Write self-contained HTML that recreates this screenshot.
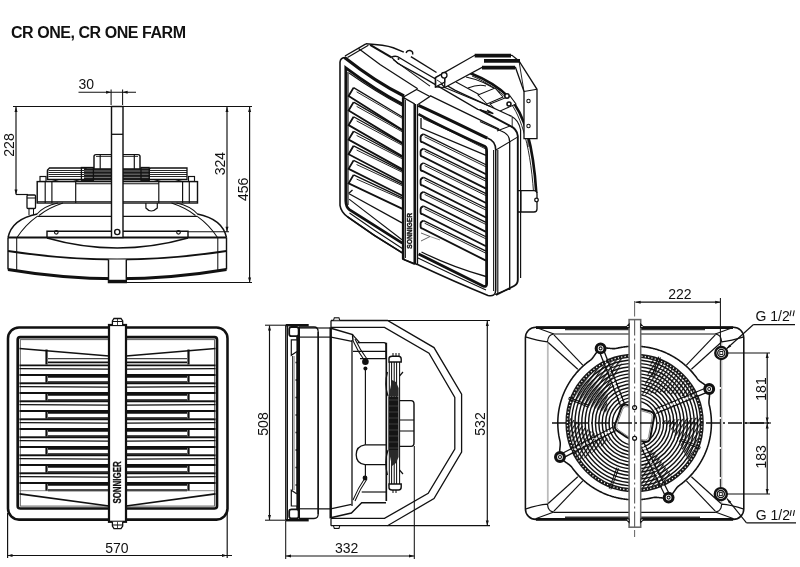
<!DOCTYPE html>
<html><head><meta charset="utf-8"><style>
html,body{margin:0;padding:0;background:#fff;}
svg{display:block;filter:grayscale(100%);}
text{font-family:"Liberation Sans",sans-serif;fill:#111;}
</style></head><body>
<svg width="800" height="567" viewBox="0 0 800 567" stroke-linecap="butt">
<text x="11" y="38" font-size="16" font-weight="bold" letter-spacing="-0.45" fill="#000">CR ONE, CR ONE FARM</text>
<text x="78.5" y="89" font-size="14" text-anchor="start" font-weight="normal" >30</text>
<line x1="78.5" y1="92.3" x2="136" y2="92.3" stroke="#111" stroke-width="1.04" />
<path d="M111.1,92.3 L106.10,93.80 L106.10,90.80 Z" fill="#111" stroke="none"/>
<path d="M122.6,92.3 L127.60,90.80 L127.60,93.80 Z" fill="#111" stroke="none"/>
<line x1="111.1" y1="89.5" x2="111.1" y2="105" stroke="#111" stroke-width="1.04" />
<line x1="122.6" y1="89.5" x2="122.6" y2="105" stroke="#111" stroke-width="1.04" />
<line x1="13" y1="106.5" x2="252" y2="106.5" stroke="#111" stroke-width="1.17" />
<line x1="16" y1="107" x2="16" y2="194.5" stroke="#111" stroke-width="1.17" />
<path d="M16,107 L17.50,112.00 L14.50,112.00 Z" fill="#111" stroke="none"/>
<path d="M16,194.5 L14.50,189.50 L17.50,189.50 Z" fill="#111" stroke="none"/>
<line x1="16" y1="194.5" x2="28" y2="194.5" stroke="#111" stroke-width="1.17" />
<text x="13.5" y="145" font-size="14" text-anchor="middle" font-weight="normal" transform="rotate(-90 13.5 145)" >228</text>
<line x1="227" y1="107" x2="227" y2="231.7" stroke="#111" stroke-width="1.17" />
<path d="M227,107 L228.50,112.00 L225.50,112.00 Z" fill="#111" stroke="none"/>
<path d="M227,231.7 L225.50,226.70 L228.50,226.70 Z" fill="#111" stroke="none"/>
<line x1="188" y1="231.7" x2="229" y2="231.7" stroke="#111" stroke-width="1.04" />
<text x="225.3" y="163.6" font-size="14" text-anchor="middle" font-weight="normal" transform="rotate(-90 225.3 163.6)" >324</text>
<line x1="249.6" y1="107" x2="249.6" y2="282.5" stroke="#111" stroke-width="1.17" />
<path d="M249.6,107 L251.10,112.00 L248.10,112.00 Z" fill="#111" stroke="none"/>
<path d="M249.6,282.5 L248.10,277.50 L251.10,277.50 Z" fill="#111" stroke="none"/>
<line x1="126" y1="282.5" x2="252" y2="282.5" stroke="#111" stroke-width="1.17" />
<text x="247.6" y="189.4" font-size="14" text-anchor="middle" font-weight="normal" transform="rotate(-90 247.6 189.4)" >456</text>
<path d="M94,170 L94,156.5 Q94,154.6 96,154.6 L138,154.6 Q140,154.6 140,156.5 L140,170" stroke="#111" stroke-width="1.43" fill="none" />
<line x1="100.2" y1="154.8" x2="100.2" y2="170" stroke="#111" stroke-width="1.17" />
<line x1="134.3" y1="154.8" x2="134.3" y2="170" stroke="#111" stroke-width="1.17" />
<line x1="96" y1="156.5" x2="138" y2="156.5" stroke="#111" stroke-width="0.78" />
<path d="M49.5,168 L86,168 L86,179.5 L47.5,179.5 L47.5,170 Z" stroke="#111" stroke-width="1.3" fill="none" />
<line x1="48.5" y1="170.5" x2="86" y2="170.5" stroke="#111" stroke-width="0.91" />
<line x1="48.5" y1="172.5" x2="86" y2="172.5" stroke="#111" stroke-width="0.91" />
<line x1="48.5" y1="174.5" x2="86" y2="174.5" stroke="#111" stroke-width="0.91" />
<line x1="48.5" y1="176.5" x2="86" y2="176.5" stroke="#111" stroke-width="0.91" />
<path d="M150.5,168 L187,168 L187,179.5 L148.5,179.5 L148.5,170 Z" stroke="#111" stroke-width="1.3" fill="none" />
<line x1="149.5" y1="170.5" x2="187" y2="170.5" stroke="#111" stroke-width="0.91" />
<line x1="149.5" y1="172.5" x2="187" y2="172.5" stroke="#111" stroke-width="0.91" />
<line x1="149.5" y1="174.5" x2="187" y2="174.5" stroke="#111" stroke-width="0.91" />
<line x1="149.5" y1="176.5" x2="187" y2="176.5" stroke="#111" stroke-width="0.91" />
<line x1="47.5" y1="170.5" x2="47.5" y2="180" stroke="#111" stroke-width="1.3" />
<path d="M52,179.5 Q66,185 80,179.5" stroke="#111" stroke-width="1.04" fill="none" />
<path d="M154,179.5 Q168,185 182,179.5" stroke="#111" stroke-width="1.04" fill="none" />
<rect x="84" y="168.2" width="66" height="12.3" rx="0" stroke="#111" stroke-width="0.0" fill="#1a1a1a" />
<line x1="84" y1="171.0" x2="150" y2="171.0" stroke="#bbb" stroke-width="0.59" />
<line x1="84" y1="174.2" x2="150" y2="174.2" stroke="#bbb" stroke-width="0.59" />
<line x1="84" y1="177.4" x2="150" y2="177.4" stroke="#bbb" stroke-width="0.59" />
<rect x="81.4" y="167.5" width="12" height="12.8" rx="0" stroke="#111" stroke-width="1.3" fill="none" />
<rect x="141" y="167.5" width="8.2" height="12.8" rx="0" stroke="#111" stroke-width="1.3" fill="none" />
<rect x="40" y="176.5" width="6" height="5" rx="0" stroke="#111" stroke-width="1.17" fill="none" />
<rect x="188.5" y="176.5" width="6" height="5" rx="0" stroke="#111" stroke-width="1.17" fill="none" />
<rect x="37.2" y="181.6" width="160.3" height="21.4" rx="0" stroke="#111" stroke-width="1.43" fill="#fff" />
<line x1="45.2" y1="181.6" x2="45.2" y2="203" stroke="#111" stroke-width="1.17" />
<line x1="189.3" y1="181.6" x2="189.3" y2="203" stroke="#111" stroke-width="1.17" />
<line x1="51.9" y1="181.6" x2="51.9" y2="203" stroke="#111" stroke-width="1.17" />
<line x1="182.6" y1="181.6" x2="182.6" y2="203" stroke="#111" stroke-width="1.17" />
<line x1="75.7" y1="181.6" x2="75.7" y2="203" stroke="#111" stroke-width="1.17" />
<line x1="158.8" y1="181.6" x2="158.8" y2="203" stroke="#111" stroke-width="1.17" />
<line x1="75.7" y1="183.7" x2="158.8" y2="183.7" stroke="#111" stroke-width="1.04" />
<line x1="37.2" y1="201.5" x2="197.5" y2="201.5" stroke="#111" stroke-width="0.78" />
<path d="M145.9,203 L145.9,208 Q151,214 157.3,208 L157.3,203" stroke="#111" stroke-width="1.17" fill="none" />
<line x1="37.2" y1="216.3" x2="197.5" y2="216.3" stroke="#111" stroke-width="1.17" />
<path d="M37,214 Q44,206 58,203" stroke="#111" stroke-width="1.04" fill="none" />
<path d="M39,215.5 Q48,208 63,203" stroke="#111" stroke-width="1.04" fill="none" />
<path d="M197.5,214 Q190.5,206 176.5,203" stroke="#111" stroke-width="1.04" fill="none" />
<path d="M195.5,215.5 Q186.5,208 171.5,203" stroke="#111" stroke-width="1.04" fill="none" />
<path d="M8,237.5 Q12,219 37.2,214" stroke="#111" stroke-width="1.43" fill="none" />
<path d="M226.5,237.5 Q222.5,219 197.3,214" stroke="#111" stroke-width="1.43" fill="none" />
<path d="M17,237.5 Q25,225 37.2,216.3" stroke="#111" stroke-width="1.04" fill="none" />
<path d="M217.5,237.5 Q209.5,225 197.3,216.3" stroke="#111" stroke-width="1.04" fill="none" />
<rect x="27" y="195" width="8.5" height="13.5" rx="1" stroke="#111" stroke-width="1.3" fill="#fff" />
<line x1="27" y1="198" x2="35.5" y2="198" stroke="#111" stroke-width="1.04" />
<line x1="29" y1="208.5" x2="29" y2="215" stroke="#111" stroke-width="1.04" />
<line x1="33.5" y1="208.5" x2="33.5" y2="215" stroke="#111" stroke-width="1.04" />
<line x1="8" y1="237.5" x2="226.5" y2="237.5" stroke="#111" stroke-width="2.0" />
<line x1="8" y1="237.5" x2="8" y2="269.5" stroke="#111" stroke-width="1.43" />
<line x1="226.5" y1="237.5" x2="226.5" y2="269.5" stroke="#111" stroke-width="1.43" />
<line x1="16.7" y1="237.5" x2="16.7" y2="271" stroke="#111" stroke-width="1.04" />
<line x1="217.8" y1="237.5" x2="217.8" y2="271" stroke="#111" stroke-width="1.04" />
<path d="M47,237.5 L47,231.2 L188,231.2 L188,237.5" stroke="#111" stroke-width="1.43" fill="none" />
<circle cx="56.3" cy="232.3" r="1.8" stroke="#111" stroke-width="1.17" fill="none" />
<circle cx="178.5" cy="232.3" r="1.8" stroke="#111" stroke-width="1.17" fill="none" />
<path d="M47,238 Q117,258 188,238" stroke="#111" stroke-width="1.67" fill="none" />
<path d="M8,251 Q117,268 226.5,251" stroke="#111" stroke-width="1.78" fill="none" />
<path d="M8,269.5 Q117,288 226.5,269.5" stroke="#111" stroke-width="2.88" fill="none" />
<rect x="111.5" y="106.5" width="11.5" height="131" rx="0" stroke="#111" stroke-width="1.43" fill="#fff" />
<line x1="111.5" y1="134.3" x2="123" y2="134.3" stroke="#111" stroke-width="1.3" />
<circle cx="117.25" cy="232" r="2.6" stroke="#111" stroke-width="1.43" fill="#fff" />
<path d="M108.5,259.5 L108.5,282.5 L126.3,282.5 L126.3,259.5" stroke="#111" stroke-width="1.43" fill="#fff" />
<line x1="108.5" y1="281" x2="126.3" y2="281" stroke="#111" stroke-width="2.44" />
<path d="M470,73 C485,79 500,88 509.3,97.7 C522,111 533,140 536.3,193" stroke="#111" stroke-width="2.66" fill="none" />
<path d="M472,76 C486,82 499,90 507.5,99 C519,112 530,140 533.6,193" stroke="#111" stroke-width="0.91" fill="none" />
<path d="M466,77 Q486,81 500,93" stroke="#111" stroke-width="1.17" fill="none" />
<path d="M456,82 L480,95 M468,88 Q478,84 486,86" stroke="#111" stroke-width="1.04" fill="none" />
<path d="M478,95 L495,88 L503,97 L487,104 Z" stroke="#111" stroke-width="1.04" fill="#fff" />
<path d="M490,104 L510,96 L516,104 L498,112 Z" stroke="#111" stroke-width="1.04" fill="#fff" />
<circle cx="507" cy="96" r="2.2" stroke="#111" stroke-width="1.56" fill="#fff" />
<circle cx="509" cy="104" r="2" stroke="#111" stroke-width="1.56" fill="#fff" />
<path d="M518,190.7 L534,190.7 Q537,190.7 537,194 L537,209 Q537,212 534,212 L518,212" stroke="#111" stroke-width="1.3" fill="#fff" />
<line x1="521" y1="190.7" x2="521" y2="212" stroke="#111" stroke-width="1.04" />
<circle cx="536.5" cy="200" r="1.8" stroke="#111" stroke-width="1.3" fill="#fff" />
<path d="M340.6,60 Q341,56.5 345,56 L365.9,43.8 Q385,45.5 399.7,49.6 L436,72 L455.3,90.3 L511.7,116.4 L517.6,126 L517.6,287 L493,296 L416,264 L402.3,253 Z" stroke="#111" stroke-width="0.0" fill="#fff" />
<line x1="345" y1="56" x2="365.9" y2="43.8" stroke="#111" stroke-width="1.43" />
<line x1="347.5" y1="57.5" x2="368.4" y2="45.2" stroke="#111" stroke-width="1.17" />
<path d="M365.9,43.8 Q385,45 393.2,47.7 L403.8,52.1" stroke="#111" stroke-width="1.56" fill="none" />
<path d="M406.2,53 A3.2,3.2 0 1 1 412.6,54.5" stroke="#111" stroke-width="1.43" fill="none" />
<path d="M410.9,56.6 L436.5,72.5" stroke="#111" stroke-width="1.43" fill="none" />
<path d="M370.1,44.9 L391.5,57.4" stroke="#111" stroke-width="2.11" fill="none" />
<path d="M391.5,57.4 Q394,55.6 397.6,56.6 L402,59.2 L420,70 L455.3,90.3 L511.7,116.4" stroke="#111" stroke-width="1.3" fill="none" />
<path d="M391.5,57.4 L397.6,63.2 L420,75.6 L477.8,109.4 L493.3,113.6 L487,110" stroke="#111" stroke-width="1.3" fill="none" />
<path d="M393.2,59.6 L430,86.1" stroke="#111" stroke-width="1.17" fill="none" />
<circle cx="398.5" cy="59" r="1.0" stroke="#111" stroke-width="0.0" fill="#111" />
<path d="M358.5,48.6 L380,64.5 L417.7,88.8" stroke="#111" stroke-width="1.3" fill="none" />
<path d="M430,95.6 L499,129.1" stroke="#111" stroke-width="1.3" fill="none" />
<path d="M444.7,87.5 L490.5,106.5" stroke="#111" stroke-width="1.17" fill="none" />
<path d="M480,109.8 L509.7,125.7 Q517.1,129 517.8,136 L517.8,280 Q517.8,284 514,286 L496,295" stroke="#111" stroke-width="1.89" fill="none" />
<path d="M480,121.5 L501.2,131 Q509.7,134 509.7,142 L509.7,290" stroke="#111" stroke-width="1.3" fill="none" />
<path d="M511.7,116.4 Q518.8,120 520.6,130 L520.6,278" stroke="#111" stroke-width="1.17" fill="none" />
<line x1="512.2" y1="117" x2="512.2" y2="128" stroke="#111" stroke-width="0.91" />
<line x1="497" y1="131" x2="510.7" y2="125.7" stroke="#111" stroke-width="1.04" />
<line x1="495.9" y1="150" x2="517" y2="137.4" stroke="#111" stroke-width="1.04" />
<line x1="497.8" y1="150" x2="497.8" y2="294" stroke="#111" stroke-width="1.17" />
<line x1="495" y1="294.5" x2="509" y2="289" stroke="#111" stroke-width="1.04" />
<path d="M435.5,77.6 L474.7,55.3 L512,55.3 L519,61 L537,89.3 L537,138.6 L524,138.6 L524,91.6 L515.5,67.5 L482,67.5 L444.7,87.5 Z" stroke="#111" stroke-width="1.3" fill="#fff" />
<line x1="474.7" y1="55.6" x2="511" y2="55.6" stroke="#111" stroke-width="3.76" />
<line x1="484" y1="60.8" x2="520" y2="60.8" stroke="#111" stroke-width="3.76" />
<line x1="482" y1="67.6" x2="515" y2="67.6" stroke="#111" stroke-width="3.76" />
<line x1="524" y1="91.6" x2="537" y2="89.3" stroke="#111" stroke-width="1.04" />
<line x1="519" y1="61" x2="524" y2="91.6" stroke="#111" stroke-width="0.91" />
<circle cx="528.5" cy="101" r="1.7" stroke="#111" stroke-width="1.04" fill="none" />
<circle cx="528.5" cy="126" r="1.7" stroke="#111" stroke-width="1.04" fill="none" />
<line x1="528" y1="138.6" x2="528" y2="147" stroke="#111" stroke-width="1.04" />
<path d="M435.5,77.6 L444.7,72.5 L444.7,82 L435.5,87 Z" stroke="#111" stroke-width="1.3" fill="#fff" />
<path d="M435.5,87 L444.7,87.5" stroke="#111" stroke-width="1.17" fill="none" />
<line x1="435.5" y1="77.6" x2="435.5" y2="87.5" stroke="#111" stroke-width="1.43" />
<line x1="444.7" y1="77.6" x2="444.7" y2="88" stroke="#111" stroke-width="1.3" />
<circle cx="444.2" cy="75.3" r="2.8" stroke="#111" stroke-width="1.3" fill="#fff" />
<line x1="437" y1="80" x2="443" y2="84" stroke="#111" stroke-width="0.91" />
<path d="M404,96 Q376,82.25 344.5,57.5 Q340.6,58 340,62 L340,205.3 Q341,212 347.6,216.8 Q374,236 402.3,252.9" stroke="#111" stroke-width="1.56" fill="none" />
<path d="M344.5,57.5 Q376,82.25 404,96" stroke="#111" stroke-width="3.1" fill="none" />
<path d="M418.4,105.3 Q440,115 487.3,138.1" stroke="#111" stroke-width="3.1" fill="none" />
<path d="M416.5,264 Q455,282 488,295.5 Q495.7,297 495.7,290 L495.7,150 Q495.7,141 487.3,138.1" stroke="#111" stroke-width="1.56" fill="none" />
<line x1="493.6" y1="150" x2="493.6" y2="291" stroke="#111" stroke-width="1.04" />
<path d="M347.6,216.8 Q374,236 402.3,252.9" stroke="#111" stroke-width="1.56" fill="none" />
<path d="M349.5,213 Q375,231 402.3,248.5" stroke="#111" stroke-width="1.04" fill="none" />
<path d="M418,258 Q455,276 486,290" stroke="#111" stroke-width="1.04" fill="none" />
<path d="M402.2,104 Q376,90.35 345.8,67.8 L345.8,201 Q346,207 349.4,209.7 L402.3,243.2" stroke="#111" stroke-width="2.77" fill="none" />
<path d="M418.4,114.1 Q440,126 485.1,146.6 Q486.6,147.5 486.6,151 L486.6,284 Q486.6,287.5 483,286 L418.6,253.9" stroke="#111" stroke-width="2.77" fill="none" />
<line x1="348" y1="72" x2="348" y2="205" stroke="#111" stroke-width="1.17" />
<path d="M349,73 Q376,92 402.5,106" stroke="#111" stroke-width="1.04" fill="none" />
<path d="M353.6,87.6 L348.6,96.0 L402.5,129.96" stroke="#111" stroke-width="1.83" fill="none" />
<path d="M353.6,87.6 L402.5,116.94" stroke="#111" stroke-width="1.3" fill="none" />
<path d="M356.6,91.8 L402.5,118.44" stroke="#111" stroke-width="0.91" fill="none" />
<path d="M353.6,102.14999999999999 L348.6,110.55 L402.5,143.11" stroke="#111" stroke-width="1.83" fill="none" />
<path d="M353.6,102.14999999999999 L402.5,130.41" stroke="#111" stroke-width="1.3" fill="none" />
<path d="M356.6,106.35 L402.5,131.91" stroke="#111" stroke-width="0.91" fill="none" />
<path d="M353.6,116.69999999999999 L348.6,125.1 L402.5,156.25" stroke="#111" stroke-width="1.83" fill="none" />
<path d="M353.6,116.69999999999999 L402.5,143.89" stroke="#111" stroke-width="1.3" fill="none" />
<path d="M356.6,120.89999999999999 L402.5,145.39" stroke="#111" stroke-width="0.91" fill="none" />
<path d="M353.6,131.25 L348.6,139.65 L402.5,169.40" stroke="#111" stroke-width="1.83" fill="none" />
<path d="M353.6,131.25 L402.5,157.36" stroke="#111" stroke-width="1.3" fill="none" />
<path d="M356.6,135.45 L402.5,158.86" stroke="#111" stroke-width="0.91" fill="none" />
<path d="M353.6,145.8 L348.6,154.20000000000002 L402.5,182.55" stroke="#111" stroke-width="1.83" fill="none" />
<path d="M353.6,145.8 L402.5,170.84" stroke="#111" stroke-width="1.3" fill="none" />
<path d="M356.6,150.0 L402.5,172.34" stroke="#111" stroke-width="0.91" fill="none" />
<path d="M353.6,160.35 L348.6,168.75 L402.5,195.70" stroke="#111" stroke-width="1.83" fill="none" />
<path d="M353.6,160.35 L402.5,184.31" stroke="#111" stroke-width="1.3" fill="none" />
<path d="M356.6,164.54999999999998 L402.5,185.81" stroke="#111" stroke-width="0.91" fill="none" />
<path d="M353.6,174.9 L348.6,183.3 L402.5,208.85" stroke="#111" stroke-width="1.83" fill="none" />
<path d="M353.6,174.9 L402.5,197.79" stroke="#111" stroke-width="1.3" fill="none" />
<path d="M356.6,179.1 L402.5,199.29" stroke="#111" stroke-width="0.91" fill="none" />
<path d="M352.5,190 L348.6,193.5" stroke="#111" stroke-width="1.3" fill="none" />
<path d="M349.1,193.8 L402,222.9" stroke="#111" stroke-width="1.3" fill="none" />
<path d="M349.1,199.1 L402,239.7" stroke="#111" stroke-width="1.17" fill="none" />
<path d="M421,118 L421,128 L486,155.3" stroke="#111" stroke-width="1.3" fill="none" />
<path d="M423,118.5 Q455,133 485,148.6" stroke="#111" stroke-width="0.91" fill="none" />
<path d="M423.6,134.2 Q420.6,135.2 420.6,137.2 L420.6,140.2 Q420.6,142.2 422.6,142.2 L486,174.24599999999998" stroke="#111" stroke-width="1.83" fill="none" />
<path d="M423.6,134.2 L486,164.77599999999998" stroke="#111" stroke-width="1.3" fill="none" />
<path d="M424.6,136.79999999999998 L486,166.88599999999997" stroke="#111" stroke-width="0.91" fill="none" />
<path d="M423.6,148.6 Q420.6,149.6 420.6,151.6 L420.6,154.6 Q420.6,156.6 422.6,156.6 L486,188.646" stroke="#111" stroke-width="1.83" fill="none" />
<path d="M423.6,148.6 L486,179.176" stroke="#111" stroke-width="1.3" fill="none" />
<path d="M424.6,151.2 L486,181.28599999999997" stroke="#111" stroke-width="0.91" fill="none" />
<path d="M423.6,163.0 Q420.6,164.0 420.6,166.0 L420.6,169.0 Q420.6,171.0 422.6,171.0 L486,203.046" stroke="#111" stroke-width="1.83" fill="none" />
<path d="M423.6,163.0 L486,193.576" stroke="#111" stroke-width="1.3" fill="none" />
<path d="M424.6,165.6 L486,195.68599999999998" stroke="#111" stroke-width="0.91" fill="none" />
<path d="M423.6,177.39999999999998 Q420.6,178.39999999999998 420.6,180.39999999999998 L420.6,183.39999999999998 Q420.6,185.39999999999998 422.6,185.39999999999998 L486,217.44599999999997" stroke="#111" stroke-width="1.83" fill="none" />
<path d="M423.6,177.39999999999998 L486,207.97599999999997" stroke="#111" stroke-width="1.3" fill="none" />
<path d="M424.6,179.99999999999997 L486,210.08599999999996" stroke="#111" stroke-width="0.91" fill="none" />
<path d="M423.6,191.79999999999998 Q420.6,192.79999999999998 420.6,194.79999999999998 L420.6,197.79999999999998 Q420.6,199.79999999999998 422.6,199.79999999999998 L486,231.84599999999998" stroke="#111" stroke-width="1.83" fill="none" />
<path d="M423.6,191.79999999999998 L486,222.37599999999998" stroke="#111" stroke-width="1.3" fill="none" />
<path d="M424.6,194.39999999999998 L486,224.48599999999996" stroke="#111" stroke-width="0.91" fill="none" />
<path d="M423.6,206.2 Q420.6,207.2 420.6,209.2 L420.6,212.2 Q420.6,214.2 422.6,214.2 L486,246.24599999999998" stroke="#111" stroke-width="1.83" fill="none" />
<path d="M423.6,206.2 L486,236.77599999999998" stroke="#111" stroke-width="1.3" fill="none" />
<path d="M424.6,208.79999999999998 L486,238.88599999999997" stroke="#111" stroke-width="0.91" fill="none" />
<path d="M423.6,220.6 Q420.6,221.6 420.6,223.6 L420.6,226.6 Q420.6,228.6 422.6,228.6 L486,260.64599999999996" stroke="#111" stroke-width="1.83" fill="none" />
<path d="M423.6,220.6 L486,251.176" stroke="#111" stroke-width="1.3" fill="none" />
<path d="M424.6,223.2 L486,253.28599999999997" stroke="#111" stroke-width="0.91" fill="none" />
<path d="M421.5,252 Q452,267 486,276.5" stroke="#111" stroke-width="1.3" fill="none" />
<path d="M421,233 L430,236.5 L421,241" stroke="#555" stroke-width="0.91" fill="none" />
<path d="M430,236.5 L440,240" stroke="#777" stroke-width="0.78" fill="none" />
<path d="M403.1,97.3 L416.6,89.4 L429.8,96.5 L417.5,104.8 L417.5,263.5 L416.8,264.4 L402.7,259 Z" stroke="#111" stroke-width="1.3" fill="#fff" />
<line x1="403.1" y1="97.3" x2="414.8" y2="104" stroke="#111" stroke-width="1.43" />
<line x1="403.2" y1="97.3" x2="403.2" y2="259" stroke="#111" stroke-width="2.66" />
<line x1="414.8" y1="104" x2="414.8" y2="264" stroke="#111" stroke-width="2.66" />
<line x1="405.5" y1="100" x2="405.5" y2="258" stroke="#111" stroke-width="0.91" />
<line x1="402.7" y1="259" x2="414.8" y2="264.2" stroke="#111" stroke-width="1.56" />
<text x="0" y="0" font-size="6.8" font-weight="bold" transform="translate(412.4,248.7) rotate(-90)" textLength="35.7" lengthAdjust="spacingAndGlyphs" stroke="#111" stroke-width="0.35">SONNIGER</text>
<line x1="7.6" y1="513" x2="7.6" y2="558" stroke="#111" stroke-width="1.17" />
<line x1="7" y1="555.5" x2="232" y2="555.5" stroke="#111" stroke-width="1.17" />
<line x1="227.2" y1="513" x2="227.2" y2="558" stroke="#111" stroke-width="1.17" />
<path d="M7.5,555.5 L12.50,554.00 L12.50,557.00 Z" fill="#111" stroke="none"/>
<path d="M227,555.5 L222.00,557.00 L222.00,554.00 Z" fill="#111" stroke="none"/>
<text x="105.2" y="553.2" font-size="14" text-anchor="start" font-weight="normal" >570</text>
<rect x="8" y="327.4" width="219.5" height="192.2" rx="11" stroke="#111" stroke-width="2.55" fill="#fff" />
<rect x="17.7" y="337.2" width="199.3" height="171.3" rx="2.5" stroke="#111" stroke-width="2.66" fill="none" />
<rect x="20.3" y="339.6" width="194.2" height="166.5" rx="0" stroke="#666" stroke-width="1.04" fill="none" />
<line x1="19.5" y1="348.5" x2="109" y2="356" stroke="#111" stroke-width="1.67" />
<line x1="46.5" y1="349.5" x2="46.5" y2="364.5" stroke="#111" stroke-width="2.22" />
<line x1="48.0" y1="358.6" x2="109" y2="358.6" stroke="#444" stroke-width="1.17" />
<line x1="48.0" y1="362.3" x2="109" y2="362.3" stroke="#111" stroke-width="1.78" />
<line x1="19.5" y1="365.3" x2="109" y2="365.3" stroke="#111" stroke-width="1.78" />
<line x1="19.5" y1="368.6" x2="109" y2="369.1" stroke="#111" stroke-width="1.3" />
<line x1="19.5" y1="374.90000000000003" x2="109" y2="374.90000000000003" stroke="#111" stroke-width="2.0" />
<line x1="46.5" y1="375.3" x2="46.5" y2="382.90000000000003" stroke="#111" stroke-width="2.22" />
<line x1="48.0" y1="376.90000000000003" x2="109" y2="376.90000000000003" stroke="#111" stroke-width="1.89" />
<line x1="48.0" y1="382.2" x2="109" y2="382.2" stroke="#111" stroke-width="1.89" />
<line x1="19.5" y1="382.7" x2="109" y2="382.7" stroke="#666" stroke-width="0.78" />
<line x1="19.5" y1="383.3" x2="109" y2="383.3" stroke="#111" stroke-width="1.78" />
<line x1="19.5" y1="386.6" x2="109" y2="387.1" stroke="#111" stroke-width="1.3" />
<line x1="19.5" y1="392.90000000000003" x2="109" y2="392.90000000000003" stroke="#111" stroke-width="2.0" />
<line x1="46.5" y1="393.3" x2="46.5" y2="400.90000000000003" stroke="#111" stroke-width="2.22" />
<line x1="48.0" y1="394.90000000000003" x2="109" y2="394.90000000000003" stroke="#111" stroke-width="1.89" />
<line x1="48.0" y1="400.2" x2="109" y2="400.2" stroke="#111" stroke-width="1.89" />
<line x1="19.5" y1="400.7" x2="109" y2="400.7" stroke="#666" stroke-width="0.78" />
<line x1="19.5" y1="401.3" x2="109" y2="401.3" stroke="#111" stroke-width="1.78" />
<line x1="19.5" y1="404.6" x2="109" y2="405.1" stroke="#111" stroke-width="1.3" />
<line x1="19.5" y1="410.90000000000003" x2="109" y2="410.90000000000003" stroke="#111" stroke-width="2.0" />
<line x1="46.5" y1="411.3" x2="46.5" y2="418.90000000000003" stroke="#111" stroke-width="2.22" />
<line x1="48.0" y1="412.90000000000003" x2="109" y2="412.90000000000003" stroke="#111" stroke-width="1.89" />
<line x1="48.0" y1="418.2" x2="109" y2="418.2" stroke="#111" stroke-width="1.89" />
<line x1="19.5" y1="418.7" x2="109" y2="418.7" stroke="#666" stroke-width="0.78" />
<line x1="19.5" y1="419.3" x2="109" y2="419.3" stroke="#111" stroke-width="1.78" />
<line x1="19.5" y1="422.6" x2="109" y2="423.1" stroke="#111" stroke-width="1.3" />
<line x1="19.5" y1="428.90000000000003" x2="109" y2="428.90000000000003" stroke="#111" stroke-width="2.0" />
<line x1="46.5" y1="429.3" x2="46.5" y2="436.90000000000003" stroke="#111" stroke-width="2.22" />
<line x1="48.0" y1="430.90000000000003" x2="109" y2="430.90000000000003" stroke="#111" stroke-width="1.89" />
<line x1="48.0" y1="436.2" x2="109" y2="436.2" stroke="#111" stroke-width="1.89" />
<line x1="19.5" y1="436.7" x2="109" y2="436.7" stroke="#666" stroke-width="0.78" />
<line x1="19.5" y1="437.3" x2="109" y2="437.3" stroke="#111" stroke-width="1.78" />
<line x1="19.5" y1="440.6" x2="109" y2="441.1" stroke="#111" stroke-width="1.3" />
<line x1="19.5" y1="446.90000000000003" x2="109" y2="446.90000000000003" stroke="#111" stroke-width="2.0" />
<line x1="46.5" y1="447.3" x2="46.5" y2="454.90000000000003" stroke="#111" stroke-width="2.22" />
<line x1="48.0" y1="448.90000000000003" x2="109" y2="448.90000000000003" stroke="#111" stroke-width="1.89" />
<line x1="48.0" y1="454.2" x2="109" y2="454.2" stroke="#111" stroke-width="1.89" />
<line x1="19.5" y1="454.7" x2="109" y2="454.7" stroke="#666" stroke-width="0.78" />
<line x1="19.5" y1="455.3" x2="109" y2="455.3" stroke="#111" stroke-width="1.78" />
<line x1="19.5" y1="458.6" x2="109" y2="459.1" stroke="#111" stroke-width="1.3" />
<line x1="19.5" y1="464.90000000000003" x2="109" y2="464.90000000000003" stroke="#111" stroke-width="2.0" />
<line x1="46.5" y1="465.3" x2="46.5" y2="472.90000000000003" stroke="#111" stroke-width="2.22" />
<line x1="48.0" y1="466.90000000000003" x2="109" y2="466.90000000000003" stroke="#111" stroke-width="1.89" />
<line x1="48.0" y1="472.2" x2="109" y2="472.2" stroke="#111" stroke-width="1.89" />
<line x1="19.5" y1="472.7" x2="109" y2="472.7" stroke="#666" stroke-width="0.78" />
<line x1="19.5" y1="473.3" x2="109" y2="473.3" stroke="#111" stroke-width="1.78" />
<line x1="19.5" y1="476.6" x2="109" y2="477.1" stroke="#111" stroke-width="1.3" />
<line x1="19.5" y1="482.90000000000003" x2="109" y2="482.90000000000003" stroke="#111" stroke-width="2.0" />
<line x1="46.5" y1="483.3" x2="46.5" y2="490.90000000000003" stroke="#111" stroke-width="2.22" />
<line x1="48.0" y1="484.90000000000003" x2="109" y2="484.90000000000003" stroke="#111" stroke-width="1.89" />
<line x1="48.0" y1="490.2" x2="109" y2="490.2" stroke="#111" stroke-width="1.89" />
<line x1="19.5" y1="490.7" x2="109" y2="490.7" stroke="#666" stroke-width="0.78" />
<line x1="19.5" y1="493.8" x2="109" y2="506" stroke="#111" stroke-width="1.67" />
<line x1="215.5" y1="348.5" x2="126" y2="356" stroke="#111" stroke-width="1.67" />
<line x1="188.5" y1="349.5" x2="188.5" y2="364.5" stroke="#111" stroke-width="2.22" />
<line x1="126" y1="358.6" x2="187.0" y2="358.6" stroke="#444" stroke-width="1.17" />
<line x1="126" y1="362.3" x2="187.0" y2="362.3" stroke="#111" stroke-width="1.78" />
<line x1="126" y1="365.3" x2="215.5" y2="365.3" stroke="#111" stroke-width="1.78" />
<line x1="215.5" y1="368.6" x2="126" y2="369.1" stroke="#111" stroke-width="1.3" />
<line x1="126" y1="374.90000000000003" x2="215.5" y2="374.90000000000003" stroke="#111" stroke-width="2.0" />
<line x1="188.5" y1="375.3" x2="188.5" y2="382.90000000000003" stroke="#111" stroke-width="2.22" />
<line x1="126" y1="376.90000000000003" x2="187.0" y2="376.90000000000003" stroke="#111" stroke-width="1.89" />
<line x1="126" y1="382.2" x2="187.0" y2="382.2" stroke="#111" stroke-width="1.89" />
<line x1="126" y1="382.7" x2="215.5" y2="382.7" stroke="#666" stroke-width="0.78" />
<line x1="126" y1="383.3" x2="215.5" y2="383.3" stroke="#111" stroke-width="1.78" />
<line x1="215.5" y1="386.6" x2="126" y2="387.1" stroke="#111" stroke-width="1.3" />
<line x1="126" y1="392.90000000000003" x2="215.5" y2="392.90000000000003" stroke="#111" stroke-width="2.0" />
<line x1="188.5" y1="393.3" x2="188.5" y2="400.90000000000003" stroke="#111" stroke-width="2.22" />
<line x1="126" y1="394.90000000000003" x2="187.0" y2="394.90000000000003" stroke="#111" stroke-width="1.89" />
<line x1="126" y1="400.2" x2="187.0" y2="400.2" stroke="#111" stroke-width="1.89" />
<line x1="126" y1="400.7" x2="215.5" y2="400.7" stroke="#666" stroke-width="0.78" />
<line x1="126" y1="401.3" x2="215.5" y2="401.3" stroke="#111" stroke-width="1.78" />
<line x1="215.5" y1="404.6" x2="126" y2="405.1" stroke="#111" stroke-width="1.3" />
<line x1="126" y1="410.90000000000003" x2="215.5" y2="410.90000000000003" stroke="#111" stroke-width="2.0" />
<line x1="188.5" y1="411.3" x2="188.5" y2="418.90000000000003" stroke="#111" stroke-width="2.22" />
<line x1="126" y1="412.90000000000003" x2="187.0" y2="412.90000000000003" stroke="#111" stroke-width="1.89" />
<line x1="126" y1="418.2" x2="187.0" y2="418.2" stroke="#111" stroke-width="1.89" />
<line x1="126" y1="418.7" x2="215.5" y2="418.7" stroke="#666" stroke-width="0.78" />
<line x1="126" y1="419.3" x2="215.5" y2="419.3" stroke="#111" stroke-width="1.78" />
<line x1="215.5" y1="422.6" x2="126" y2="423.1" stroke="#111" stroke-width="1.3" />
<line x1="126" y1="428.90000000000003" x2="215.5" y2="428.90000000000003" stroke="#111" stroke-width="2.0" />
<line x1="188.5" y1="429.3" x2="188.5" y2="436.90000000000003" stroke="#111" stroke-width="2.22" />
<line x1="126" y1="430.90000000000003" x2="187.0" y2="430.90000000000003" stroke="#111" stroke-width="1.89" />
<line x1="126" y1="436.2" x2="187.0" y2="436.2" stroke="#111" stroke-width="1.89" />
<line x1="126" y1="436.7" x2="215.5" y2="436.7" stroke="#666" stroke-width="0.78" />
<line x1="126" y1="437.3" x2="215.5" y2="437.3" stroke="#111" stroke-width="1.78" />
<line x1="215.5" y1="440.6" x2="126" y2="441.1" stroke="#111" stroke-width="1.3" />
<line x1="126" y1="446.90000000000003" x2="215.5" y2="446.90000000000003" stroke="#111" stroke-width="2.0" />
<line x1="188.5" y1="447.3" x2="188.5" y2="454.90000000000003" stroke="#111" stroke-width="2.22" />
<line x1="126" y1="448.90000000000003" x2="187.0" y2="448.90000000000003" stroke="#111" stroke-width="1.89" />
<line x1="126" y1="454.2" x2="187.0" y2="454.2" stroke="#111" stroke-width="1.89" />
<line x1="126" y1="454.7" x2="215.5" y2="454.7" stroke="#666" stroke-width="0.78" />
<line x1="126" y1="455.3" x2="215.5" y2="455.3" stroke="#111" stroke-width="1.78" />
<line x1="215.5" y1="458.6" x2="126" y2="459.1" stroke="#111" stroke-width="1.3" />
<line x1="126" y1="464.90000000000003" x2="215.5" y2="464.90000000000003" stroke="#111" stroke-width="2.0" />
<line x1="188.5" y1="465.3" x2="188.5" y2="472.90000000000003" stroke="#111" stroke-width="2.22" />
<line x1="126" y1="466.90000000000003" x2="187.0" y2="466.90000000000003" stroke="#111" stroke-width="1.89" />
<line x1="126" y1="472.2" x2="187.0" y2="472.2" stroke="#111" stroke-width="1.89" />
<line x1="126" y1="472.7" x2="215.5" y2="472.7" stroke="#666" stroke-width="0.78" />
<line x1="126" y1="473.3" x2="215.5" y2="473.3" stroke="#111" stroke-width="1.78" />
<line x1="215.5" y1="476.6" x2="126" y2="477.1" stroke="#111" stroke-width="1.3" />
<line x1="126" y1="482.90000000000003" x2="215.5" y2="482.90000000000003" stroke="#111" stroke-width="2.0" />
<line x1="188.5" y1="483.3" x2="188.5" y2="490.90000000000003" stroke="#111" stroke-width="2.22" />
<line x1="126" y1="484.90000000000003" x2="187.0" y2="484.90000000000003" stroke="#111" stroke-width="1.89" />
<line x1="126" y1="490.2" x2="187.0" y2="490.2" stroke="#111" stroke-width="1.89" />
<line x1="126" y1="490.7" x2="215.5" y2="490.7" stroke="#666" stroke-width="0.78" />
<line x1="215.5" y1="493.8" x2="126" y2="506" stroke="#111" stroke-width="1.67" />
<rect x="109" y="325" width="17" height="196.8" rx="0" stroke="#111" stroke-width="2.22" fill="#fff" />
<path d="M112.4,325 L112.4,321 L114,318.5 L121,318.5 L122.7,321 L122.7,325" stroke="#111" stroke-width="1.3" fill="#fff" />
<line x1="112.4" y1="321.5" x2="122.7" y2="321.5" stroke="#111" stroke-width="1.04" />
<line x1="117.5" y1="318.5" x2="117.5" y2="325" stroke="#111" stroke-width="0.78" />
<path d="M112.4,521.8 L112.4,526 L114,528.6 L121,528.6 L122.7,526 L122.7,521.8" stroke="#111" stroke-width="1.3" fill="#fff" />
<line x1="112.4" y1="525" x2="122.7" y2="525" stroke="#111" stroke-width="1.04" />
<line x1="117.5" y1="521.8" x2="117.5" y2="528.6" stroke="#111" stroke-width="0.78" />
<text x="0" y="0" font-size="10.5" font-weight="bold" transform="translate(121.1,503.6) rotate(-90)" textLength="42.3" lengthAdjust="spacingAndGlyphs" stroke="#111" stroke-width="0.3">SONNIGER</text>
<line x1="265" y1="325.2" x2="287" y2="325.2" stroke="#111" stroke-width="1.04" />
<line x1="265" y1="520.2" x2="287" y2="520.2" stroke="#111" stroke-width="1.04" />
<line x1="269.5" y1="325.5" x2="269.5" y2="520" stroke="#111" stroke-width="1.17" />
<path d="M269.5,325.5 L271.00,330.50 L268.00,330.50 Z" fill="#111" stroke="none"/>
<path d="M269.5,520 L268.00,515.00 L271.00,515.00 Z" fill="#111" stroke="none"/>
<text x="267.6" y="424" font-size="14" text-anchor="middle" font-weight="normal" transform="rotate(-90 267.6 424)" >508</text>
<line x1="285.7" y1="521" x2="285.7" y2="559" stroke="#111" stroke-width="1.04" />
<line x1="414.3" y1="446" x2="414.3" y2="559" stroke="#111" stroke-width="1.04" />
<line x1="285.7" y1="556" x2="414.3" y2="556" stroke="#111" stroke-width="1.17" />
<path d="M286,556 L291.00,554.50 L291.00,557.50 Z" fill="#111" stroke="none"/>
<path d="M414,556 L409.00,557.50 L409.00,554.50 Z" fill="#111" stroke="none"/>
<text x="335" y="553" font-size="14" text-anchor="start" font-weight="normal" >332</text>
<line x1="331" y1="320.5" x2="490" y2="320.5" stroke="#111" stroke-width="1.17" />
<line x1="387.5" y1="525.7" x2="490" y2="525.7" stroke="#111" stroke-width="1.17" />
<line x1="487.3" y1="321" x2="487.3" y2="525.4" stroke="#111" stroke-width="1.17" />
<path d="M487.3,321 L488.80,326.00 L485.80,326.00 Z" fill="#111" stroke="none"/>
<path d="M487.3,525.4 L485.80,520.40 L488.80,520.40 Z" fill="#111" stroke="none"/>
<text x="485.3" y="424" font-size="14" text-anchor="middle" font-weight="normal" transform="rotate(-90 485.3 424)" >532</text>
<path d="M331,320.5 L387.5,320.5 L434,347.6 L461.6,394.2 L461.6,452 L434,498.6 L387.5,525.7 L331,525.7" stroke="#111" stroke-width="1.3" fill="none" />
<path d="M331,327.4 L384.5,327.4 L429,353.2 L454.8,397.5 L454.8,449.1 L428.2,493.3 L384.5,518.4 L331,518.4" stroke="#111" stroke-width="1.3" fill="none" />
<line x1="331" y1="320.5" x2="331" y2="327.4" stroke="#111" stroke-width="1.3" />
<line x1="331" y1="518.4" x2="331" y2="525.7" stroke="#111" stroke-width="1.3" />
<path d="M333.5,320.3 L334.3,317.8 L339,317.8 L339.7,320.3" stroke="#111" stroke-width="1.04" fill="#ddd" />
<path d="M333.5,525.9 L334.3,528.4 L339,528.4 L339.7,525.9" stroke="#111" stroke-width="1.04" fill="#ddd" />
<line x1="285.8" y1="325.2" x2="285.8" y2="520.2" stroke="#111" stroke-width="1.43" />
<line x1="287.4" y1="326" x2="287.4" y2="519.5" stroke="#111" stroke-width="1.17" />
<line x1="292.7" y1="356" x2="292.7" y2="490" stroke="#111" stroke-width="1.04" />
<line x1="294.2" y1="356" x2="294.2" y2="490" stroke="#777" stroke-width="0.78" />
<line x1="298.1" y1="327" x2="298.1" y2="518" stroke="#111" stroke-width="3.76" />
<path d="M285.8,325.2 L308.7,325.2" stroke="#111" stroke-width="2.44" fill="none" />
<path d="M285.8,520.2 L308.7,520.2" stroke="#111" stroke-width="2.44" fill="none" />
<line x1="295.5" y1="345.0" x2="297" y2="345.0" stroke="#111" stroke-width="1.3" />
<line x1="295.5" y1="362.5" x2="297" y2="362.5" stroke="#111" stroke-width="1.3" />
<line x1="295.5" y1="380.0" x2="297" y2="380.0" stroke="#111" stroke-width="1.3" />
<line x1="295.5" y1="397.5" x2="297" y2="397.5" stroke="#111" stroke-width="1.3" />
<line x1="295.5" y1="415.0" x2="297" y2="415.0" stroke="#111" stroke-width="1.3" />
<line x1="295.5" y1="432.5" x2="297" y2="432.5" stroke="#111" stroke-width="1.3" />
<line x1="295.5" y1="450.0" x2="297" y2="450.0" stroke="#111" stroke-width="1.3" />
<line x1="295.5" y1="467.5" x2="297" y2="467.5" stroke="#111" stroke-width="1.3" />
<line x1="295.5" y1="485.0" x2="297" y2="485.0" stroke="#111" stroke-width="1.3" />
<line x1="295.5" y1="502.5" x2="297" y2="502.5" stroke="#111" stroke-width="1.3" />
<rect x="289.2" y="327" width="9.4" height="9.2" rx="2.2" stroke="#111" stroke-width="1.78" fill="#fff" />
<path d="M291.3,339.8 L297,339.8 L297,351.5 L291.3,355.3 Z" stroke="#111" stroke-width="1.17" fill="#fff" />
<rect x="289.2" y="509.3" width="9.4" height="9.2" rx="2.2" stroke="#111" stroke-width="1.78" fill="#fff" />
<path d="M291.3,506 L297,506 L297,494 L291.3,490.2 Z" stroke="#111" stroke-width="1.17" fill="#fff" />
<path d="M299,327 L314,327 Q318.2,327 318.2,332 L318.2,514 Q318.2,518.5 314,518.5 L299,518.5" stroke="#111" stroke-width="1.3" fill="none" />
<line x1="300" y1="328" x2="331" y2="328" stroke="#111" stroke-width="1.17" />
<line x1="300" y1="337.1" x2="331" y2="337.1" stroke="#111" stroke-width="1.17" />
<line x1="300" y1="508.8" x2="318" y2="508.8" stroke="#111" stroke-width="1.17" />
<line x1="318.2" y1="332" x2="318.2" y2="514" stroke="#111" stroke-width="1.3" />
<line x1="330.7" y1="327.4" x2="330.7" y2="518.4" stroke="#111" stroke-width="2.44" />
<path d="M331,328.2 L352.5,334.6 L353,340.9" stroke="#111" stroke-width="1.43" fill="none" />
<path d="M331,337.2 L352,341.4" stroke="#111" stroke-width="1.3" fill="none" />
<path d="M352.5,334.6 L359.9,343" stroke="#111" stroke-width="1.17" fill="none" />
<path d="M330.7,517.8 L351.4,513 L361.7,502.7 L386,502.7" stroke="#111" stroke-width="1.43" fill="none" />
<path d="M318,508.8 L330.7,508.8 L351.4,504.3" stroke="#111" stroke-width="1.3" fill="none" />
<line x1="352" y1="340" x2="352" y2="506" stroke="#111" stroke-width="1.3" />
<line x1="365.4" y1="368" x2="365.4" y2="478" stroke="#111" stroke-width="1.17" />
<path d="M357.5,342.7 L384,342.7 Q386,342.7 386,345 L386,358.6 L360,358.6" stroke="#111" stroke-width="1.3" fill="none" />
<line x1="353" y1="351.4" x2="386" y2="351.4" stroke="#111" stroke-width="1.17" />
<path d="M353,340.7 Q358,352 365.4,361.7" stroke="#111" stroke-width="1.04" fill="none" />
<path d="M355,339 Q360,350 367,359" stroke="#111" stroke-width="1.04" fill="none" />
<circle cx="365.4" cy="361.7" r="3.3" stroke="#111" stroke-width="0.0" fill="#111" />
<circle cx="365.4" cy="368.4" r="2" stroke="#111" stroke-width="0.0" fill="#111" />
<path d="M386,444.8 L365,444.8 Q356.2,446 356.2,454.7 Q356.2,463.5 365,464.6 L386,464.6" stroke="#111" stroke-width="1.3" fill="#fff" />
<path d="M353,500 Q358,488 365,478" stroke="#111" stroke-width="1.04" fill="none" />
<path d="M355,501 Q360,489 367,479" stroke="#111" stroke-width="1.04" fill="none" />
<circle cx="365" cy="478" r="2.4" stroke="#111" stroke-width="0.0" fill="#111" />
<line x1="361.7" y1="492" x2="386" y2="492" stroke="#111" stroke-width="1.17" />
<line x1="386.3" y1="342.7" x2="386.3" y2="501" stroke="#111" stroke-width="1.67" />
<path d="M389.3,362 L389.3,486 M391.6,362 L391.6,486 M394.2,362 L394.2,486 M396.6,362 L396.6,486 M399.6,362 L399.6,486" stroke="#111" stroke-width="1.04" fill="none" />
<path d="M389,362 L389,358.5 Q389,356.2 392,356.2 L398.5,356.2 Q401.2,356.2 401.2,359 L401.2,362 Z" stroke="#111" stroke-width="1.43" fill="#fff" />
<line x1="393" y1="353" x2="393" y2="356.2" stroke="#111" stroke-width="1.04" />
<line x1="396" y1="353" x2="396" y2="356.2" stroke="#111" stroke-width="1.04" />
<line x1="399" y1="353" x2="399" y2="356.2" stroke="#111" stroke-width="1.04" />
<path d="M389,484 L389,487.5 Q389,490 392,490 L398.5,490 Q401.2,490 401.2,487 L401.2,484 Z" stroke="#111" stroke-width="1.43" fill="#fff" />
<line x1="393" y1="490" x2="393" y2="493" stroke="#111" stroke-width="1.04" />
<line x1="396" y1="490" x2="396" y2="493" stroke="#111" stroke-width="1.04" />
<rect x="388.4" y="396.5" width="10.2" height="53.5" rx="0" stroke="#111" stroke-width="0.0" fill="#141414" />
<path d="M388.6,396.5 L392,380 L396,382 L398.6,388 L398.6,396.5 Z" stroke="#111" stroke-width="0.0" fill="#2a2a2a" />
<path d="M388.6,450 L392,466 L396,463 L398.6,457 L398.6,450 Z" stroke="#111" stroke-width="0.0" fill="#2a2a2a" />
<line x1="389" y1="400" x2="398" y2="400" stroke="#666" stroke-width="0.52" />
<line x1="389" y1="406" x2="398" y2="406" stroke="#666" stroke-width="0.52" />
<line x1="389" y1="412" x2="398" y2="412" stroke="#666" stroke-width="0.52" />
<line x1="389" y1="418" x2="398" y2="418" stroke="#666" stroke-width="0.52" />
<line x1="389" y1="424" x2="398" y2="424" stroke="#666" stroke-width="0.52" />
<line x1="389" y1="430" x2="398" y2="430" stroke="#666" stroke-width="0.52" />
<line x1="389" y1="436" x2="398" y2="436" stroke="#666" stroke-width="0.52" />
<line x1="389" y1="442" x2="398" y2="442" stroke="#666" stroke-width="0.52" />
<line x1="389" y1="448" x2="398" y2="448" stroke="#666" stroke-width="0.52" />
<path d="M387.5,372 Q384,384 388,396" stroke="#111" stroke-width="1.17" fill="none" />
<path d="M387.5,475 Q384,462 388,450" stroke="#111" stroke-width="1.17" fill="none" />
<path d="M399.5,376 L403,372 M399.5,470 L403,474" stroke="#111" stroke-width="1.17" fill="none" />
<path d="M399.5,400.6 L411,400.6 Q414,400.6 414,404 L414,443 Q414,446.4 411,446.4 L399.5,446.4" stroke="#111" stroke-width="1.43" fill="none" />
<line x1="400" y1="420" x2="414" y2="420" stroke="#111" stroke-width="1.04" />
<line x1="400" y1="431" x2="414" y2="431" stroke="#111" stroke-width="1.04" />
<rect x="525.4" y="327.2" width="218.4" height="192.2" rx="10.5" stroke="#111" stroke-width="1.56" fill="#fff" />
<line x1="536" y1="327.6" x2="733" y2="327.6" stroke="#111" stroke-width="2.88" />
<line x1="536" y1="519.3" x2="733" y2="519.3" stroke="#111" stroke-width="2.66" />
<line x1="565" y1="329.6" x2="705" y2="329.6" stroke="#333" stroke-width="1.43" />
<line x1="565" y1="517.3" x2="700" y2="517.3" stroke="#333" stroke-width="1.43" />
<line x1="553.9" y1="334" x2="715.7" y2="334" stroke="#111" stroke-width="1.17" />
<line x1="553.9" y1="512.4" x2="715.7" y2="512.4" stroke="#111" stroke-width="1.17" />
<line x1="547.8" y1="341.8" x2="547.8" y2="504.6" stroke="#bbb" stroke-width="1.78" />
<line x1="721.6" y1="341.8" x2="721.6" y2="504.6" stroke="#bbb" stroke-width="1.56" />
<line x1="720.4" y1="359" x2="720.4" y2="488" stroke="#333" stroke-width="1.17" stroke-dasharray="28,2"/>
<path d="M525.4,336.9 Q538.0,341.0 547.5,341.8 Q548.0,334.5 553.9,334.0" stroke="#111" stroke-width="1.17" fill="none" />
<line x1="535.5" y1="327.2" x2="553.9" y2="334.0" stroke="#111" stroke-width="1.17" />
<line x1="553.9" y1="334.8" x2="582.8" y2="365.1" stroke="#111" stroke-width="1.17" />
<line x1="548.2" y1="342.5" x2="577.8" y2="369.3" stroke="#111" stroke-width="1.17" />
<path d="M525.4,509.1 Q538.0,505.0 547.5,504.2 Q548.0,511.5 553.9,512.0" stroke="#111" stroke-width="1.17" fill="none" />
<line x1="535.5" y1="518.8" x2="553.9" y2="512.0" stroke="#111" stroke-width="1.17" />
<line x1="553.9" y1="511.2" x2="582.8" y2="480.9" stroke="#111" stroke-width="1.17" />
<line x1="548.2" y1="503.5" x2="577.8" y2="476.7" stroke="#111" stroke-width="1.17" />
<path d="M743.8,336.9 Q731.2,341.0 721.7,341.8 Q721.2,334.5 715.3,334.0" stroke="#111" stroke-width="1.17" fill="none" />
<line x1="733.7" y1="327.2" x2="715.3000000000001" y2="334.0" stroke="#111" stroke-width="1.17" />
<line x1="715.3000000000001" y1="334.8" x2="686.4000000000001" y2="365.1" stroke="#111" stroke-width="1.17" />
<line x1="721.0" y1="342.5" x2="691.4000000000001" y2="369.3" stroke="#111" stroke-width="1.17" />
<path d="M743.8,509.1 Q731.2,505.0 721.7,504.2 Q721.2,511.5 715.3,512.0" stroke="#111" stroke-width="1.17" fill="none" />
<line x1="733.7" y1="518.8" x2="715.3000000000001" y2="512.0" stroke="#111" stroke-width="1.17" />
<line x1="715.3000000000001" y1="511.2" x2="686.4000000000001" y2="480.9" stroke="#111" stroke-width="1.17" />
<line x1="721.0" y1="503.5" x2="691.4000000000001" y2="476.7" stroke="#111" stroke-width="1.17" />
<path d="M711.40,423.00 L711.40,423.67 L711.39,424.34 L711.37,425.01 L711.35,425.68 L711.33,426.35 L711.29,427.02 L711.26,427.69 L711.21,428.36 L711.16,429.03 L711.11,429.69 L711.05,430.36 L710.98,431.03 L710.91,431.69 L710.83,432.36 L710.74,433.02 L710.65,433.69 L710.56,434.35 L710.45,435.01 L710.35,435.68 L710.23,436.34 L710.11,437.00 L709.99,437.65 L709.86,438.31 L709.72,438.97 L709.58,439.62 L709.43,440.28 L709.28,440.93 L709.12,441.58 L708.95,442.23 L708.78,442.88 L708.61,443.52 L708.42,444.17 L708.24,444.81 L708.04,445.45 L707.85,446.09 L707.64,446.73 L707.43,447.37 L707.22,448.00 L706.99,448.64 L706.77,449.27 L706.54,449.90 L706.30,450.52 L706.06,451.15 L705.81,451.77 L705.55,452.39 L705.29,453.01 L705.03,453.62 L704.76,454.24 L704.49,454.85 L704.20,455.46 L703.92,456.06 L703.63,456.67 L703.33,457.27 L703.03,457.87 L702.72,458.46 L702.41,459.06 L702.09,459.65 L701.77,460.23 L701.44,460.82 L701.11,461.40 L700.77,461.98 L700.43,462.55 L700.08,463.13 L699.73,463.70 L699.37,464.26 L699.01,464.83 L698.64,465.39 L698.27,465.95 L697.89,466.50 L697.51,467.05 L697.12,467.60 L696.73,468.14 L696.34,468.68 L695.94,469.22 L695.53,469.75 L695.12,470.28 L694.70,470.81 L694.28,471.33 L693.86,471.85 L693.43,472.37 L693.00,472.88 L692.56,473.39 L692.12,473.89 L691.67,474.39 L691.22,474.89 L690.77,475.38 L690.31,475.87 L689.85,476.35 L689.38,476.83 L688.91,477.31 L688.43,477.78 L687.95,478.25 L687.47,478.71 L686.98,479.17 L686.49,479.62 L685.99,480.07 L685.49,480.52 L684.99,480.96 L684.48,481.40 L683.97,481.83 L683.45,482.26 L682.93,482.68 L682.41,483.10 L681.88,483.52 L681.35,483.93 L680.82,484.34 L680.28,484.74 L679.74,485.13 L679.20,485.52 L678.66,485.93 L678.15,486.37 L677.66,486.84 L677.19,487.34 L676.73,487.87 L676.28,488.43 L675.85,489.01 L675.42,489.60 L674.99,490.22 L674.56,490.84 L674.12,491.46 L673.68,492.08 L673.23,492.69 L672.77,493.29 L672.28,493.87 L671.78,494.43 L671.26,494.95 L670.72,495.44 L670.15,495.89 L669.56,496.30 L668.95,496.66 L668.31,496.98 L667.66,497.25 L666.98,497.47 L666.29,497.65 L665.58,497.78 L664.85,497.87 L664.11,497.92 L663.36,497.94 L662.61,497.92 L661.85,497.88 L661.09,497.82 L660.34,497.74 L659.58,497.66 L658.83,497.58 L658.09,497.50 L657.36,497.43 L656.63,497.38 L655.92,497.35 L655.22,497.35 L654.53,497.38 L653.85,497.44 L653.19,497.54 L652.53,497.68 L651.88,497.83 L651.22,497.98 L650.57,498.12 L649.91,498.26 L649.25,498.39 L648.60,498.51 L647.94,498.63 L647.28,498.75 L646.61,498.85 L645.95,498.96 L645.29,499.05 L644.62,499.14 L643.96,499.23 L643.29,499.31 L642.63,499.38 L641.96,499.45 L641.29,499.51 L640.63,499.56 L639.96,499.61 L639.29,499.66 L638.62,499.69 L637.95,499.73 L637.28,499.75 L636.61,499.77 L635.94,499.79 L635.27,499.80 L634.60,499.80 L633.93,499.80 L633.26,499.79 L632.59,499.77 L631.92,499.75 L631.25,499.73 L630.58,499.69 L629.91,499.66 L629.24,499.61 L628.57,499.56 L627.91,499.51 L627.24,499.45 L626.57,499.38 L625.91,499.31 L625.24,499.23 L624.58,499.14 L623.91,499.05 L623.25,498.96 L622.59,498.85 L621.92,498.75 L621.26,498.63 L620.60,498.51 L619.95,498.39 L619.29,498.26 L618.63,498.12 L617.98,497.98 L617.32,497.83 L616.67,497.68 L616.02,497.52 L615.37,497.35 L614.72,497.18 L614.08,497.01 L613.43,496.82 L612.79,496.64 L612.15,496.44 L611.51,496.25 L610.87,496.04 L610.23,495.83 L609.60,495.62 L608.96,495.39 L608.33,495.17 L607.70,494.94 L607.08,494.70 L606.45,494.46 L605.83,494.21 L605.21,493.95 L604.59,493.69 L603.98,493.43 L603.36,493.16 L602.75,492.89 L602.14,492.60 L601.54,492.32 L600.93,492.03 L600.33,491.73 L599.73,491.43 L599.14,491.12 L598.54,490.81 L597.95,490.49 L597.37,490.17 L596.78,489.84 L596.20,489.51 L595.62,489.17 L595.05,488.83 L594.47,488.48 L593.90,488.13 L593.34,487.77 L592.77,487.41 L592.21,487.04 L591.65,486.67 L591.10,486.29 L590.55,485.91 L590.00,485.52 L589.46,485.13 L588.92,484.74 L588.38,484.34 L587.85,483.93 L587.32,483.52 L586.79,483.10 L586.27,482.68 L585.75,482.26 L585.23,481.83 L584.72,481.40 L584.21,480.96 L583.71,480.52 L583.21,480.07 L582.71,479.62 L582.22,479.17 L581.73,478.71 L581.25,478.25 L580.77,477.78 L580.29,477.31 L579.82,476.83 L579.35,476.35 L578.89,475.87 L578.43,475.38 L577.98,474.89 L577.53,474.39 L577.08,473.89 L576.64,473.39 L576.20,472.88 L575.77,472.37 L575.34,471.85 L574.92,471.33 L574.50,470.81 L574.08,470.28 L573.67,469.75 L573.26,469.22 L572.86,468.68 L572.47,468.14 L572.08,467.60 L571.67,467.06 L571.23,466.55 L570.76,466.06 L570.26,465.59 L569.73,465.13 L569.17,464.68 L568.59,464.25 L568.00,463.82 L567.38,463.39 L566.76,462.96 L566.14,462.52 L565.52,462.08 L564.91,461.63 L564.31,461.17 L563.73,460.68 L563.17,460.18 L562.65,459.66 L562.16,459.12 L561.71,458.55 L561.30,457.96 L560.94,457.35 L560.62,456.71 L560.35,456.06 L560.13,455.38 L559.95,454.69 L559.82,453.98 L559.73,453.25 L559.68,452.51 L559.66,451.76 L559.68,451.01 L559.72,450.25 L559.78,449.49 L559.86,448.74 L559.94,447.98 L560.02,447.23 L560.10,446.49 L560.17,445.76 L560.22,445.03 L560.25,444.32 L560.25,443.62 L560.22,442.93 L560.16,442.25 L560.06,441.59 L559.92,440.93 L559.77,440.28 L559.62,439.62 L559.48,438.97 L559.34,438.31 L559.21,437.65 L559.09,437.00 L558.97,436.34 L558.85,435.68 L558.75,435.01 L558.64,434.35 L558.55,433.69 L558.46,433.02 L558.37,432.36 L558.29,431.69 L558.22,431.03 L558.15,430.36 L558.09,429.69 L558.04,429.03 L557.99,428.36 L557.94,427.69 L557.91,427.02 L557.87,426.35 L557.85,425.68 L557.83,425.01 L557.81,424.34 L557.80,423.67 L557.80,423.00 L557.80,422.33 L557.81,421.66 L557.83,420.99 L557.85,420.32 L557.87,419.65 L557.91,418.98 L557.94,418.31 L557.99,417.64 L558.04,416.97 L558.09,416.31 L558.15,415.64 L558.22,414.97 L558.29,414.31 L558.37,413.64 L558.46,412.98 L558.55,412.31 L558.64,411.65 L558.75,410.99 L558.85,410.32 L558.97,409.66 L559.09,409.00 L559.21,408.35 L559.34,407.69 L559.48,407.03 L559.62,406.38 L559.77,405.72 L559.92,405.07 L560.08,404.42 L560.25,403.77 L560.42,403.12 L560.59,402.48 L560.78,401.83 L560.96,401.19 L561.16,400.55 L561.35,399.91 L561.56,399.27 L561.77,398.63 L561.98,398.00 L562.21,397.36 L562.43,396.73 L562.66,396.10 L562.90,395.48 L563.14,394.85 L563.39,394.23 L563.65,393.61 L563.91,392.99 L564.17,392.38 L564.44,391.76 L564.71,391.15 L565.00,390.54 L565.28,389.94 L565.57,389.33 L565.87,388.73 L566.17,388.13 L566.48,387.54 L566.79,386.94 L567.11,386.35 L567.43,385.77 L567.76,385.18 L568.09,384.60 L568.43,384.02 L568.77,383.45 L569.12,382.87 L569.47,382.30 L569.83,381.74 L570.19,381.17 L570.56,380.61 L570.93,380.05 L571.31,379.50 L571.69,378.95 L572.08,378.40 L572.47,377.86 L572.86,377.32 L573.26,376.78 L573.67,376.25 L574.08,375.72 L574.50,375.19 L574.92,374.67 L575.34,374.15 L575.77,373.63 L576.20,373.12 L576.64,372.61 L577.08,372.11 L577.53,371.61 L577.98,371.11 L578.43,370.62 L578.89,370.13 L579.35,369.65 L579.82,369.17 L580.29,368.69 L580.77,368.22 L581.25,367.75 L581.73,367.29 L582.22,366.83 L582.71,366.38 L583.21,365.93 L583.71,365.48 L584.21,365.04 L584.72,364.60 L585.23,364.17 L585.75,363.74 L586.27,363.32 L586.79,362.90 L587.32,362.48 L587.85,362.07 L588.38,361.66 L588.92,361.26 L589.46,360.87 L590.00,360.48 L590.54,360.07 L591.05,359.63 L591.54,359.16 L592.01,358.66 L592.47,358.13 L592.92,357.57 L593.35,356.99 L593.78,356.40 L594.21,355.78 L594.64,355.16 L595.08,354.54 L595.52,353.92 L595.97,353.31 L596.43,352.71 L596.92,352.13 L597.42,351.57 L597.94,351.05 L598.48,350.56 L599.05,350.11 L599.64,349.70 L600.25,349.34 L600.89,349.02 L601.54,348.75 L602.22,348.53 L602.91,348.35 L603.62,348.22 L604.35,348.13 L605.09,348.08 L605.84,348.06 L606.59,348.08 L607.35,348.12 L608.11,348.18 L608.86,348.26 L609.62,348.34 L610.37,348.42 L611.11,348.50 L611.84,348.57 L612.57,348.62 L613.28,348.65 L613.98,348.65 L614.67,348.62 L615.35,348.56 L616.01,348.46 L616.67,348.32 L617.32,348.17 L617.98,348.02 L618.63,347.88 L619.29,347.74 L619.95,347.61 L620.60,347.49 L621.26,347.37 L621.92,347.25 L622.59,347.15 L623.25,347.04 L623.91,346.95 L624.58,346.86 L625.24,346.77 L625.91,346.69 L626.57,346.62 L627.24,346.55 L627.91,346.49 L628.57,346.44 L629.24,346.39 L629.91,346.34 L630.58,346.31 L631.25,346.27 L631.92,346.25 L632.59,346.23 L633.26,346.21 L633.93,346.20 L634.60,346.20 L635.27,346.20 L635.94,346.21 L636.61,346.23 L637.28,346.25 L637.95,346.27 L638.62,346.31 L639.29,346.34 L639.96,346.39 L640.63,346.44 L641.29,346.49 L641.96,346.55 L642.63,346.62 L643.29,346.69 L643.96,346.77 L644.62,346.86 L645.29,346.95 L645.95,347.04 L646.61,347.15 L647.28,347.25 L647.94,347.37 L648.60,347.49 L649.25,347.61 L649.91,347.74 L650.57,347.88 L651.22,348.02 L651.88,348.17 L652.53,348.32 L653.18,348.48 L653.83,348.65 L654.48,348.82 L655.12,348.99 L655.77,349.18 L656.41,349.36 L657.05,349.56 L657.69,349.75 L658.33,349.96 L658.97,350.17 L659.60,350.38 L660.24,350.61 L660.87,350.83 L661.50,351.06 L662.12,351.30 L662.75,351.54 L663.37,351.79 L663.99,352.05 L664.61,352.31 L665.22,352.57 L665.84,352.84 L666.45,353.11 L667.06,353.40 L667.66,353.68 L668.27,353.97 L668.87,354.27 L669.47,354.57 L670.06,354.88 L670.66,355.19 L671.25,355.51 L671.83,355.83 L672.42,356.16 L673.00,356.49 L673.58,356.83 L674.15,357.17 L674.73,357.52 L675.30,357.87 L675.86,358.23 L676.43,358.59 L676.99,358.96 L677.55,359.33 L678.10,359.71 L678.65,360.09 L679.20,360.48 L679.74,360.87 L680.28,361.26 L680.82,361.66 L681.35,362.07 L681.88,362.48 L682.41,362.90 L682.93,363.32 L683.45,363.74 L683.97,364.17 L684.48,364.60 L684.99,365.04 L685.49,365.48 L685.99,365.93 L686.49,366.38 L686.98,366.83 L687.47,367.29 L687.95,367.75 L688.43,368.22 L688.91,368.69 L689.38,369.17 L689.85,369.65 L690.31,370.13 L690.77,370.62 L691.22,371.11 L691.67,371.61 L692.12,372.11 L692.56,372.61 L693.00,373.12 L693.43,373.63 L693.86,374.15 L694.28,374.67 L694.70,375.19 L695.12,375.72 L695.53,376.25 L695.94,376.78 L696.34,377.32 L696.73,377.86 L697.12,378.40 L697.53,378.94 L697.97,379.45 L698.44,379.94 L698.94,380.41 L699.47,380.87 L700.03,381.32 L700.61,381.75 L701.20,382.18 L701.82,382.61 L702.44,383.04 L703.06,383.47 L703.68,383.92 L704.29,384.37 L704.89,384.83 L705.47,385.32 L706.03,385.82 L706.55,386.34 L707.04,386.88 L707.49,387.45 L707.90,388.04 L708.26,388.65 L708.58,389.29 L708.85,389.94 L709.07,390.62 L709.25,391.31 L709.38,392.02 L709.47,392.75 L709.52,393.49 L709.54,394.24 L709.52,394.99 L709.48,395.75 L709.42,396.51 L709.34,397.26 L709.26,398.02 L709.18,398.77 L709.10,399.51 L709.03,400.24 L708.98,400.97 L708.95,401.68 L708.95,402.38 L708.98,403.07 L709.04,403.75 L709.14,404.41 L709.28,405.07 L709.43,405.72 L709.58,406.38 L709.72,407.03 L709.86,407.69 L709.99,408.35 L710.11,409.00 L710.23,409.66 L710.35,410.32 L710.45,410.99 L710.56,411.65 L710.65,412.31 L710.74,412.98 L710.83,413.64 L710.91,414.31 L710.98,414.97 L711.05,415.64 L711.11,416.31 L711.16,416.97 L711.21,417.64 L711.26,418.31 L711.29,418.98 L711.33,419.65 L711.35,420.32 L711.37,420.99 L711.39,421.66 L711.40,422.33 L711.40,423.00 Z" stroke="#111" stroke-width="1.56" fill="#fff" />
<circle cx="634.6" cy="423.0" r="67.2" stroke="#1a1a1a" stroke-width="3.98" fill="none" />
<circle cx="634.6" cy="423.0" r="67.2" stroke="#fff" stroke-width="1.3" fill="none" stroke-dasharray="1.2,2.2"/>
<defs><pattern id="hatch" patternUnits="userSpaceOnUse" width="3.4" height="3.4" patternTransform="rotate(35)"><rect x="0" y="0" width="1.3" height="3.4" fill="#1a1a1a"/></pattern><clipPath id="fanclip"><circle cx="634.6" cy="423.0" r="65.5"/></clipPath></defs>
<path d="M572.6,400.4 L575.3,394.1 L578.6,388.0 L582.6,382.4 L587.1,377.2 L592.2,372.4 L597.7,368.3 L603.6,364.7 L609.9,361.8 L616.4,359.6 L623.1,358.0 L623.1,358.0 L622.0,362.1 L620.2,366.4 L617.8,371.0 L615.2,376.1 L612.5,381.5 L610.1,387.4 L608.3,393.7 L607.2,400.3 L607.1,406.9 L608.3,413.4 Z" fill="url(#hatch)" stroke="none" clip-path="url(#fanclip)"/>
<path d="M651.7,359.2 L657.5,361.1 L663.1,363.5 L668.5,366.4 L673.6,369.7 L678.3,373.6 L682.7,377.8 L686.7,382.5 L690.2,387.4 L693.2,392.7 L695.8,398.3 L695.8,398.3 L691.6,398.1 L687.1,397.4 L682.2,396.3 L677.0,395.1 L671.5,393.9 L665.7,393.0 L659.7,392.6 L653.5,392.9 L647.5,393.9 L641.8,396.0 Z" fill="url(#hatch)" stroke="none" clip-path="url(#fanclip)"/>
<path d="M700.3,417.2 L700.6,421.8 L700.5,426.5 L700.1,431.0 L699.4,435.6 L698.4,440.1 L697.0,444.5 L695.4,448.8 L693.4,453.0 L691.2,457.0 L688.7,460.9 L688.7,460.9 L686.5,457.3 L684.4,453.5 L682.4,449.4 L680.4,445.0 L678.2,440.6 L675.8,436.1 L673.0,431.8 L669.9,427.6 L666.4,423.8 L662.5,420.6 Z" fill="url(#hatch)" stroke="none" clip-path="url(#fanclip)"/>
<path d="M672.5,477.1 L668.6,479.6 L664.6,481.8 L660.4,483.8 L656.1,485.4 L651.7,486.8 L647.2,487.8 L642.6,488.5 L638.1,488.9 L633.4,489.0 L628.8,488.7 L628.8,488.7 L630.8,485.1 L633.1,481.4 L635.7,477.6 L638.4,473.7 L641.1,469.5 L643.8,465.2 L646.2,460.7 L648.2,455.9 L649.8,451.0 L650.7,445.9 Z" fill="url(#hatch)" stroke="none" clip-path="url(#fanclip)"/>
<path d="M580.5,460.9 L578.0,457.0 L575.8,453.0 L573.8,448.8 L572.2,444.5 L570.8,440.1 L569.8,435.6 L569.1,431.0 L568.7,426.5 L568.6,421.8 L568.9,417.2 L568.9,417.2 L572.5,419.2 L576.2,421.5 L580.0,424.1 L583.9,426.8 L588.1,429.5 L592.4,432.2 L596.9,434.6 L601.7,436.6 L606.6,438.2 L611.7,439.1 Z" fill="url(#hatch)" stroke="none" clip-path="url(#fanclip)"/>
<circle cx="634.6" cy="423.0" r="63.0" stroke="#111" stroke-width="1.43" fill="none" />
<circle cx="634.6" cy="423.0" r="59.6" stroke="#111" stroke-width="1.43" fill="none" />
<circle cx="634.6" cy="423.0" r="56.2" stroke="#111" stroke-width="1.43" fill="none" />
<circle cx="634.6" cy="423.0" r="52.8" stroke="#111" stroke-width="1.43" fill="none" />
<circle cx="634.6" cy="423.0" r="49.4" stroke="#111" stroke-width="1.43" fill="none" />
<circle cx="634.6" cy="423.0" r="46.0" stroke="#111" stroke-width="1.43" fill="none" />
<circle cx="634.6" cy="423.0" r="42.6" stroke="#111" stroke-width="1.43" fill="none" />
<circle cx="634.6" cy="423.0" r="39.2" stroke="#111" stroke-width="1.43" fill="none" />
<circle cx="634.6" cy="423.0" r="35.8" stroke="#111" stroke-width="1.43" fill="none" />
<circle cx="634.6" cy="423.0" r="32.4" stroke="#111" stroke-width="1.43" fill="none" />
<circle cx="634.6" cy="423.0" r="29.0" stroke="#111" stroke-width="1.43" fill="none" />
<circle cx="634.6" cy="423.0" r="25.6" stroke="#111" stroke-width="1.43" fill="none" />
<circle cx="634.6" cy="423.0" r="22.2" stroke="#111" stroke-width="1.43" fill="none" />
<line x1="604.1" y1="351.31" x2="624.55" y2="403.8" stroke="#111" stroke-width="1.3" />
<line x1="600.0" y1="352.91" x2="620.45" y2="405.4" stroke="#111" stroke-width="1.3" />
<circle cx="603.5" cy="355.84" r="0.9" stroke="#111" stroke-width="0.0" fill="#fff" />
<circle cx="605.13" cy="360.03" r="0.9" stroke="#111" stroke-width="0.0" fill="#fff" />
<circle cx="606.77" cy="364.22" r="0.9" stroke="#111" stroke-width="0.0" fill="#fff" />
<circle cx="608.4" cy="368.42" r="0.9" stroke="#111" stroke-width="0.0" fill="#fff" />
<circle cx="610.03" cy="372.61" r="0.9" stroke="#111" stroke-width="0.0" fill="#fff" />
<circle cx="611.67" cy="376.8" r="0.9" stroke="#111" stroke-width="0.0" fill="#fff" />
<circle cx="613.3" cy="380.99" r="0.9" stroke="#111" stroke-width="0.0" fill="#fff" />
<circle cx="614.94" cy="385.19" r="0.9" stroke="#111" stroke-width="0.0" fill="#fff" />
<circle cx="616.57" cy="389.38" r="0.9" stroke="#111" stroke-width="0.0" fill="#fff" />
<circle cx="618.2" cy="393.57" r="0.9" stroke="#111" stroke-width="0.0" fill="#fff" />
<circle cx="619.84" cy="397.77" r="0.9" stroke="#111" stroke-width="0.0" fill="#fff" />
<circle cx="621.47" cy="401.96" r="0.9" stroke="#111" stroke-width="0.0" fill="#fff" />
<line x1="706.36" y1="392.56" x2="656.24" y2="413.33" stroke="#111" stroke-width="1.3" />
<line x1="704.68" y1="388.49" x2="654.56" y2="409.27" stroke="#111" stroke-width="1.3" />
<circle cx="701.83" cy="392.06" r="0.9" stroke="#111" stroke-width="0.0" fill="#fff" />
<circle cx="697.67" cy="393.78" r="0.9" stroke="#111" stroke-width="0.0" fill="#fff" />
<circle cx="693.51" cy="395.5" r="0.9" stroke="#111" stroke-width="0.0" fill="#fff" />
<circle cx="689.36" cy="397.23" r="0.9" stroke="#111" stroke-width="0.0" fill="#fff" />
<circle cx="685.2" cy="398.95" r="0.9" stroke="#111" stroke-width="0.0" fill="#fff" />
<circle cx="681.04" cy="400.67" r="0.9" stroke="#111" stroke-width="0.0" fill="#fff" />
<circle cx="676.88" cy="402.4" r="0.9" stroke="#111" stroke-width="0.0" fill="#fff" />
<circle cx="672.73" cy="404.12" r="0.9" stroke="#111" stroke-width="0.0" fill="#fff" />
<circle cx="668.57" cy="405.84" r="0.9" stroke="#111" stroke-width="0.0" fill="#fff" />
<circle cx="664.41" cy="407.56" r="0.9" stroke="#111" stroke-width="0.0" fill="#fff" />
<circle cx="660.26" cy="409.29" r="0.9" stroke="#111" stroke-width="0.0" fill="#fff" />
<line x1="562.52" y1="453.21" x2="613.59" y2="426.75" stroke="#111" stroke-width="1.3" />
<line x1="564.55" y1="457.12" x2="615.61" y2="430.65" stroke="#111" stroke-width="1.3" />
<circle cx="567.09" cy="453.32" r="0.9" stroke="#111" stroke-width="0.0" fill="#fff" />
<circle cx="571.08" cy="451.25" r="0.9" stroke="#111" stroke-width="0.0" fill="#fff" />
<circle cx="575.08" cy="449.18" r="0.9" stroke="#111" stroke-width="0.0" fill="#fff" />
<circle cx="579.07" cy="447.11" r="0.9" stroke="#111" stroke-width="0.0" fill="#fff" />
<circle cx="583.07" cy="445.04" r="0.9" stroke="#111" stroke-width="0.0" fill="#fff" />
<circle cx="587.06" cy="442.97" r="0.9" stroke="#111" stroke-width="0.0" fill="#fff" />
<circle cx="591.06" cy="440.9" r="0.9" stroke="#111" stroke-width="0.0" fill="#fff" />
<circle cx="595.05" cy="438.83" r="0.9" stroke="#111" stroke-width="0.0" fill="#fff" />
<circle cx="599.05" cy="436.76" r="0.9" stroke="#111" stroke-width="0.0" fill="#fff" />
<circle cx="603.04" cy="434.69" r="0.9" stroke="#111" stroke-width="0.0" fill="#fff" />
<circle cx="607.04" cy="432.62" r="0.9" stroke="#111" stroke-width="0.0" fill="#fff" />
<circle cx="611.03" cy="430.55" r="0.9" stroke="#111" stroke-width="0.0" fill="#fff" />
<line x1="664.86" y1="495.01" x2="639.03" y2="442.98" stroke="#111" stroke-width="1.3" />
<line x1="668.8" y1="493.06" x2="642.97" y2="441.02" stroke="#111" stroke-width="1.3" />
<circle cx="665.05" cy="490.45" r="0.9" stroke="#111" stroke-width="0.0" fill="#fff" />
<circle cx="663.05" cy="486.42" r="0.9" stroke="#111" stroke-width="0.0" fill="#fff" />
<circle cx="661.05" cy="482.39" r="0.9" stroke="#111" stroke-width="0.0" fill="#fff" />
<circle cx="659.05" cy="478.36" r="0.9" stroke="#111" stroke-width="0.0" fill="#fff" />
<circle cx="657.05" cy="474.33" r="0.9" stroke="#111" stroke-width="0.0" fill="#fff" />
<circle cx="655.04" cy="470.3" r="0.9" stroke="#111" stroke-width="0.0" fill="#fff" />
<circle cx="653.04" cy="466.27" r="0.9" stroke="#111" stroke-width="0.0" fill="#fff" />
<circle cx="651.04" cy="462.24" r="0.9" stroke="#111" stroke-width="0.0" fill="#fff" />
<circle cx="649.04" cy="458.2" r="0.9" stroke="#111" stroke-width="0.0" fill="#fff" />
<circle cx="647.04" cy="454.17" r="0.9" stroke="#111" stroke-width="0.0" fill="#fff" />
<circle cx="645.04" cy="450.14" r="0.9" stroke="#111" stroke-width="0.0" fill="#fff" />
<circle cx="643.04" cy="446.11" r="0.9" stroke="#111" stroke-width="0.0" fill="#fff" />
<line x1="568.84" y1="397.17" x2="589.34" y2="405.57" stroke="#111" stroke-width="1.04" />
<line x1="568.16" y1="398.83" x2="588.66" y2="407.23" stroke="#111" stroke-width="1.04" />
<line x1="660.45" y1="357.3" x2="653.45" y2="377.1" stroke="#111" stroke-width="1.04" />
<line x1="658.75" y1="356.7" x2="651.75" y2="376.5" stroke="#111" stroke-width="1.04" />
<line x1="618.64" y1="468.31" x2="610.84" y2="489.31" stroke="#111" stroke-width="1.04" />
<line x1="616.96" y1="467.69" x2="609.16" y2="488.69" stroke="#111" stroke-width="1.04" />
<line x1="681.36" y1="438.87" x2="700.86" y2="447.37" stroke="#111" stroke-width="1.04" />
<line x1="680.64" y1="440.53" x2="700.14" y2="449.03" stroke="#111" stroke-width="1.04" />
<circle cx="709.2168242118765" cy="388.9951541021884" r="4.4" stroke="#111" stroke-width="3.1" fill="#fff" />
<circle cx="709.2168242118765" cy="388.9951541021884" r="1.5" stroke="#111" stroke-width="1.04" fill="none" />
<circle cx="668.6048458978116" cy="497.6168242118765" r="4.4" stroke="#111" stroke-width="3.1" fill="#fff" />
<circle cx="668.6048458978116" cy="497.6168242118765" r="1.5" stroke="#111" stroke-width="1.04" fill="none" />
<circle cx="559.9831757881235" cy="457.0048458978116" r="4.4" stroke="#111" stroke-width="3.1" fill="#fff" />
<circle cx="559.9831757881235" cy="457.0048458978116" r="1.5" stroke="#111" stroke-width="1.04" fill="none" />
<circle cx="600.5951541021884" cy="348.3831757881235" r="4.4" stroke="#111" stroke-width="3.1" fill="#fff" />
<circle cx="600.5951541021884" cy="348.3831757881235" r="1.5" stroke="#111" stroke-width="1.04" fill="none" />
<path d="M621.23,407.82 Q622.80,403.60 627.13,404.84 L650.57,411.56 Q654.90,412.80 654.08,417.22 L650.22,437.88 Q649.40,442.30 644.95,441.66 L634.45,440.14 Q630.00,439.50 626.28,436.96 L617.32,430.84 Q613.60,428.30 615.17,424.08 Z" stroke="#111" stroke-width="2.0" fill="#fff" />
<path d="M622.54,409.52 Q623.93,405.77 627.78,406.87 L648.98,412.95 Q652.82,414.05 652.09,417.98 L648.61,436.67 Q647.87,440.60 643.92,440.03 L634.37,438.65 Q630.41,438.08 627.11,435.82 L618.96,430.26 Q615.65,428.00 617.05,424.25 Z" stroke="#666" stroke-width="0.78" fill="none" />
<rect x="629.1" y="319.6" width="11.6" height="207.6" rx="0" stroke="#666" stroke-width="1.56" fill="#fff" />
<line x1="634.6" y1="319.6" x2="634.6" y2="527.2" stroke="#666" stroke-width="1.17" stroke-dasharray="16,3,2,3"/>
<circle cx="634.6" cy="407.6" r="2.0" stroke="#111" stroke-width="1.17" fill="none" />
<circle cx="634.6" cy="438.3" r="2.0" stroke="#111" stroke-width="1.17" fill="none" />
<line x1="552" y1="423.0" x2="771" y2="423.0" stroke="#111" stroke-width="1.04" stroke-dasharray="14,3,2,3"/>
<path d="M625.5,327.5 L629.1,324 L629.1,327.5 Z M644.2,327.5 L640.7,324 L640.7,327.5 Z" stroke="#111" stroke-width="1.04" fill="#fff" />
<path d="M625.5,519 L629.1,522.5 L629.1,519 Z M644.2,519 L640.7,522.5 L640.7,519 Z" stroke="#111" stroke-width="1.04" fill="#fff" />
<circle cx="721.3" cy="353" r="6.0" stroke="#111" stroke-width="2.44" fill="#fff" />
<circle cx="721.3" cy="353" r="3.6" stroke="#111" stroke-width="1.3" fill="none" />
<rect x="719.8" y="351.5" width="3" height="3" rx="0" stroke="#111" stroke-width="0.91" fill="none" />
<circle cx="720.8" cy="494.1" r="6.0" stroke="#111" stroke-width="2.44" fill="#fff" />
<circle cx="720.8" cy="494.1" r="3.6" stroke="#111" stroke-width="1.3" fill="none" />
<rect x="719.3" y="492.6" width="3" height="3" rx="0" stroke="#111" stroke-width="0.91" fill="none" />
<line x1="635.4" y1="302.2" x2="720.2" y2="302.2" stroke="#111" stroke-width="1.17" />
<path d="M720.2,302.2 L715.20,303.70 L715.20,300.70 Z" fill="#111" stroke="none"/>
<path d="M635.6,302.2 L640.60,300.70 L640.60,303.70 Z" fill="#111" stroke="none"/>
<line x1="720.4" y1="298" x2="720.4" y2="347" stroke="#111" stroke-width="1.04" />
<text x="668.3" y="299.3" font-size="14" text-anchor="start" font-weight="normal" >222</text>
<line x1="634.6" y1="301" x2="634.6" y2="316.5" stroke="#666" stroke-width="1.04" />
<line x1="634.6" y1="530" x2="634.6" y2="537" stroke="#666" stroke-width="1.04" />
<line x1="552" y1="423.0" x2="771" y2="423.0" stroke="#111" stroke-width="1.04" stroke-dasharray="14,3,2,3"/>
<line x1="727" y1="353" x2="770" y2="353" stroke="#111" stroke-width="1.04" />
<line x1="727" y1="494.1" x2="770" y2="494.1" stroke="#111" stroke-width="1.04" />
<line x1="767.2" y1="353" x2="767.2" y2="494.1" stroke="#111" stroke-width="1.17" />
<path d="M767.2,353 L768.70,358.00 L765.70,358.00 Z" fill="#111" stroke="none"/>
<path d="M767.2,422.5 L765.70,417.50 L768.70,417.50 Z" fill="#111" stroke="none"/>
<path d="M767.2,423.5 L768.70,428.50 L765.70,428.50 Z" fill="#111" stroke="none"/>
<path d="M767.2,494.1 L765.70,489.10 L768.70,489.10 Z" fill="#111" stroke="none"/>
<text x="765.7" y="389" font-size="14" text-anchor="middle" font-weight="normal" transform="rotate(-90 765.7 389)" >181</text>
<text x="765.9" y="456.8" font-size="14" text-anchor="middle" font-weight="normal" transform="rotate(-90 765.9 456.8)" >183</text>
<text x="755.5" y="320.6" font-size="14" text-anchor="start" font-weight="normal" >G 1/2</text>
<line x1="791.1" y1="310.40000000000003" x2="789.9000000000001" y2="316.1" stroke="#111" stroke-width="1.04" />
<line x1="794.3000000000001" y1="310.40000000000003" x2="793.1" y2="316.1" stroke="#111" stroke-width="1.04" />
<line x1="753.2" y1="324.7" x2="795" y2="324.7" stroke="#111" stroke-width="1.3" />
<line x1="753.2" y1="324.7" x2="726.6" y2="348.8" stroke="#111" stroke-width="1.17" />
<path d="M726.6,348.8 L729.37,344.41 L731.25,346.48 Z" fill="#111" stroke="none"/>
<text x="755.7" y="520.3" font-size="14" text-anchor="start" font-weight="normal" >G 1/2</text>
<line x1="791.3000000000001" y1="510.09999999999997" x2="790.1000000000001" y2="515.8" stroke="#111" stroke-width="1.04" />
<line x1="794.5000000000001" y1="510.09999999999997" x2="793.3000000000001" y2="515.8" stroke="#111" stroke-width="1.04" />
<line x1="746.5" y1="522.8" x2="796" y2="522.8" stroke="#111" stroke-width="1.3" />
<line x1="746.5" y1="522.8" x2="727" y2="498.7" stroke="#111" stroke-width="1.17" />
<path d="M727,498.7 L731.23,501.71 L729.06,503.47 Z" fill="#111" stroke="none"/>
<line x1="744.5" y1="423.0" x2="771" y2="423.0" stroke="#111" stroke-width="1.17" />
</svg>
</body></html>
